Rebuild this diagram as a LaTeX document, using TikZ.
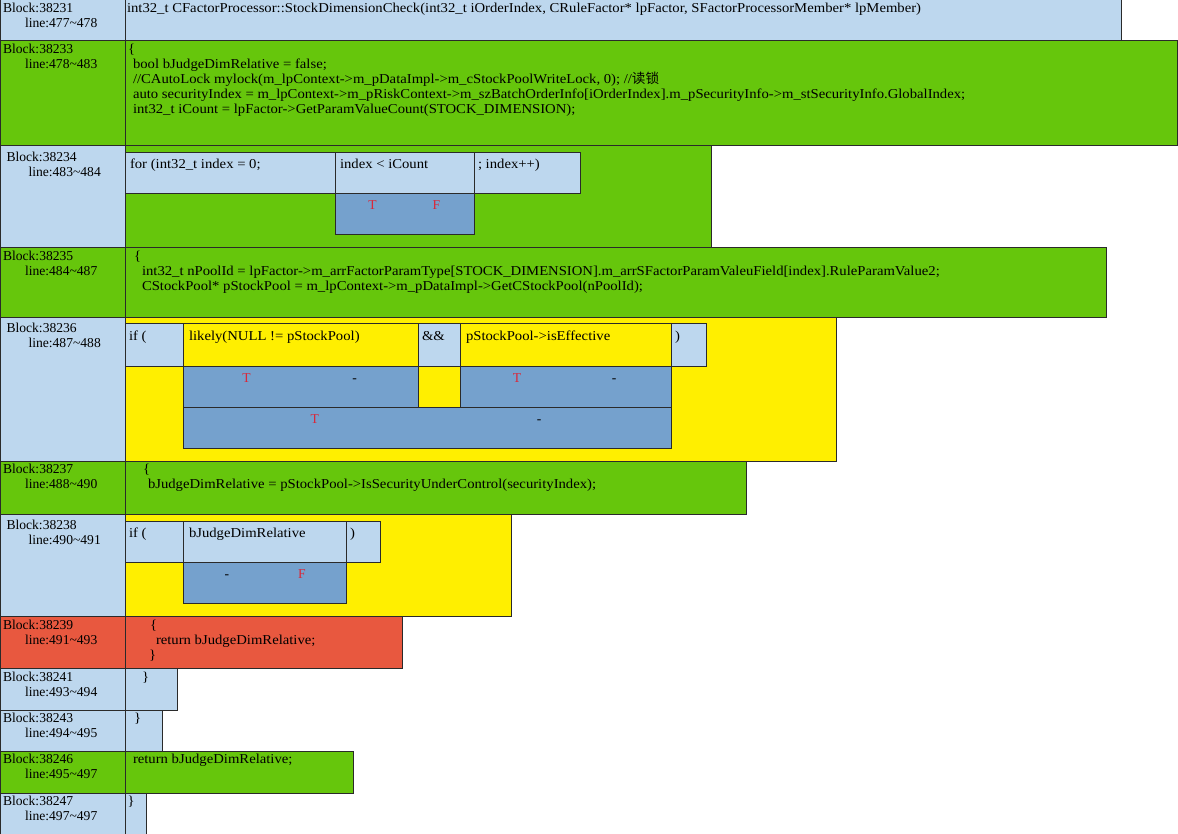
\documentclass[tikz,border=0pt]{standalone}
\usepackage{fontspec}
\setmainfont{Liberation Serif}
\newfontfamily\codefont[FakeStretch=1.08]{Liberation Serif}
\newfontfamily\cjk{Noto Sans CJK SC}
\definecolor{cellblue}{HTML}{BDD7EE}
\definecolor{cellgreen}{HTML}{66C60C}
\definecolor{cellyellow}{HTML}{FFEF00}
\definecolor{cellred}{HTML}{E8583F}
\definecolor{celldeep}{HTML}{75A1CD}
\definecolor{edge}{HTML}{2A2A2A}
\definecolor{flag}{HTML}{D9283A}
\tikzset{
  cellbox/.style={rectangle, draw=edge, line width=1pt, anchor=north west,
    inner sep=0pt, outer sep=0pt},
  lb/.style={cellbox, fill=cellblue},
  gr/.style={cellbox, fill=cellgreen},
  yl/.style={cellbox, fill=cellyellow},
  rd/.style={cellbox, fill=cellred},
  db/.style={cellbox, fill=celldeep},
  label text/.style={anchor=base west, inner sep=0pt, outer sep=0pt,
    font=\fontsize{13.6}{15}\selectfont, text=black},
  code/.style={anchor=base west, inner sep=0pt, outer sep=0pt,
    font=\codefont\fontsize{13.6}{15}\selectfont, text=black},
  flagmark/.style={anchor=base, inner sep=0pt, font=\fontsize{13.6}{15}\selectfont, text=flag},
  nomark/.style={anchor=base, inner sep=0pt, font=\fontsize{13.6}{15}\selectfont, text=black},
}
% \cell{name}{style}{x1}{y1}{x2}{y2}
\newcommand\cell[6]{\node[#2, minimum width={(#5-#3)*1pt}, minimum height={(#6-#4)*1pt}] (#1) at (#3,#4) {};}
% \txt{name}{x}{baseline y}{code text}
\newcommand\txt[4]{\node[code] (#1) at (#2,#3) {#4};}
% \blockinfo{name}{x}{baseline y}{block id}{x of second line}{line range}
\newcommand\blockinfo[6]{%
  \node[label text] (#1a) at (#2,#3) {Block:#4};
  \node[label text] (#1b) at (#5,{#3+15}) {#6};}
% \branch{name}{x1}{y1}{x2}{left mark style}{left}{right mark style}{right}
\newcommand\branch[8]{%
  \node[#5] (#1l) at ({#2+0.27*(#4-#2)},{#3+16.5}) {#6};
  \node[#7] (#1r) at ({#2+0.73*(#4-#2)},{#3+16.5}) {#8};}
\newcommand\tl{\textasciitilde}
\begin{document}
\begin{tikzpicture}[x=1pt, y=-1pt]
\useasboundingbox[fill=white] (0,0) rectangle (1178,834);

% ---- block 38231
\cell{b1l}{lb}{0}{0}{125}{41}
\cell{b1r}{lb}{125}{0}{1121}{41}
\blockinfo{b1}{3}{12.5}{38231}{25}{line:477\tl478}
\txt{b1c}{127}{12.5}{int32\_t CFactorProcessor::StockDimensionCheck(int32\_t iOrderIndex, CRuleFactor* lpFactor, SFactorProcessorMember* lpMember)}

% ---- block 38233
\cell{b2l}{gr}{0}{41}{125}{145.5}
\cell{b2r}{gr}{125}{41}{1177.5}{145.5}
\blockinfo{b2}{3}{54}{38233}{25}{line:478\tl483}
\txt{b2c}{128}{54}{\{}
\txt{b2d}{133}{68.8}{bool bJudgeDimRelative = false;}
\txt{b2e}{133}{83.6}{//CAutoLock mylock(m\_lpContext->m\_pDataImpl->m\_cStockPoolWriteLock, 0); //{\cjk 读锁}}
\txt{b2f}{133}{98.4}{auto securityIndex = m\_lpContext->m\_pRiskContext->m\_szBatchOrderInfo[iOrderIndex].m\_pSecurityInfo->m\_stSecurityInfo.GlobalIndex;}
\txt{b2g}{133}{113.2}{int32\_t iCount = lpFactor->GetParamValueCount(STOCK\_DIMENSION);}

% ---- block 38234 (for loop)
\cell{b3l}{lb}{0}{145.5}{125}{248}
\cell{b3r}{gr}{125}{145.5}{711}{248}
\blockinfo{b3}{6.5}{162}{38234}{28.5}{line:483\tl484}
\cell{b3i}{lb}{125}{153}{335}{193.5}
\cell{b3c}{lb}{335}{153}{474}{193.5}
\cell{b3s}{lb}{474}{153}{580}{193.5}
\cell{b3d}{db}{335}{193.5}{474}{235}
\txt{b3it}{130}{169}{for (int32\_t index = 0;}
\txt{b3ct}{340}{169}{index < iCount}
\txt{b3st}{478}{169}{; index++)}
\branch{b3d}{335}{193.5}{474}{flagmark}{T}{flagmark}{F}

% ---- block 38235
\cell{b4l}{gr}{0}{248}{125}{318}
\cell{b4r}{gr}{125}{248}{1106}{318}
\blockinfo{b4}{3}{260.5}{38235}{25}{line:484\tl487}
\txt{b4c}{134}{260.5}{\{}
\txt{b4d}{142}{275.3}{int32\_t nPoolId = lpFactor->m\_arrFactorParamType[STOCK\_DIMENSION].m\_arrSFactorParamValeuField[index].RuleParamValue2;}
\txt{b4e}{142}{290.1}{CStockPool* pStockPool = m\_lpContext->m\_pDataImpl->GetCStockPool(nPoolId);}

% ---- block 38236 (if with two conditions)
\cell{b5l}{lb}{0}{318}{125}{461}
\cell{b5r}{yl}{125}{318}{836}{461}
\blockinfo{b5}{6.5}{333}{38236}{28.5}{line:487\tl488}
\cell{b5i}{lb}{125}{324}{183}{366}
\cell{b5p}{yl}{183}{324}{418}{366}
\cell{b5n}{lb}{418}{324}{460}{366}
\cell{b5q}{yl}{460}{324}{671}{366}
\cell{b5c}{lb}{671}{324}{706}{366}
\cell{b5d}{db}{183}{366}{418}{407}
\cell{b5e}{db}{460}{366}{671}{407}
\cell{b5f}{db}{183}{407}{671}{448}
\txt{b5it}{129}{341}{if (}
\txt{b5pt}{189}{341}{likely(NULL != pStockPool)}
\txt{b5nt}{422}{341}{\&\&}
\txt{b5qt}{466}{341}{pStockPool->isEffective}
\txt{b5ct}{675}{341}{)}
\branch{b5d}{183}{366}{418}{flagmark}{T}{nomark}{-}
\branch{b5e}{460}{366}{671}{flagmark}{T}{nomark}{-}
\branch{b5f}{183}{407}{671}{flagmark}{T}{nomark}{-}

% ---- block 38237
\cell{b6l}{gr}{0}{461}{125}{514}
\cell{b6r}{gr}{125}{461}{746}{514}
\blockinfo{b6}{3}{473.5}{38237}{25}{line:488\tl490}
\txt{b6c}{143}{473.5}{\{}
\txt{b6d}{148}{488.3}{bJudgeDimRelative = pStockPool->IsSecurityUnderControl(securityIndex);}

% ---- block 38238 (if)
\cell{b7l}{lb}{0}{514}{125}{616.5}
\cell{b7r}{yl}{125}{514}{511}{616.5}
\blockinfo{b7}{6.5}{529.5}{38238}{28.5}{line:490\tl491}
\cell{b7i}{lb}{125}{521}{183}{562}
\cell{b7p}{lb}{183}{521}{346}{562}
\cell{b7c}{lb}{346}{521}{380}{562}
\cell{b7d}{db}{183}{562}{346}{603}
\txt{b7it}{129}{537}{if (}
\txt{b7pt}{189}{537}{bJudgeDimRelative}
\txt{b7ct}{350}{537}{)}
\branch{b7d}{183}{562}{346}{nomark}{-}{flagmark}{F}

% ---- block 38239
\cell{b8l}{rd}{0}{616.5}{125}{668.5}
\cell{b8r}{rd}{125}{616.5}{402}{668.5}
\blockinfo{b8}{3}{629.5}{38239}{25}{line:491\tl493}
\txt{b8c}{150}{629.5}{\{}
\txt{b8d}{156}{644.3}{return bJudgeDimRelative;}
\txt{b8e}{149}{659.1}{\}}

% ---- block 38241
\cell{b9l}{lb}{0}{668.5}{125}{710}
\cell{b9r}{lb}{125}{668.5}{177}{710}
\blockinfo{b9}{3}{681.5}{38241}{25}{line:493\tl494}
\txt{b9c}{142}{681.5}{\}}

% ---- block 38243
\cell{b10l}{lb}{0}{710}{125}{751}
\cell{b10r}{lb}{125}{710}{162}{751}
\blockinfo{b10}{3}{722.5}{38243}{25}{line:494\tl495}
\txt{b10c}{134}{722.5}{\}}

% ---- block 38246
\cell{b11l}{gr}{0}{751}{125}{793}
\cell{b11r}{gr}{125}{751}{353}{793}
\blockinfo{b11}{3}{763.5}{38246}{25}{line:495\tl497}
\txt{b11c}{133}{763.5}{return bJudgeDimRelative;}

% ---- block 38247
\cell{b12l}{lb}{0}{793}{125}{834}
\cell{b12r}{lb}{125}{793}{146}{834}
\blockinfo{b12}{3}{805.5}{38247}{25}{line:497\tl497}
\txt{b12c}{127.5}{805.5}{\}}
\end{tikzpicture}
\end{document}
